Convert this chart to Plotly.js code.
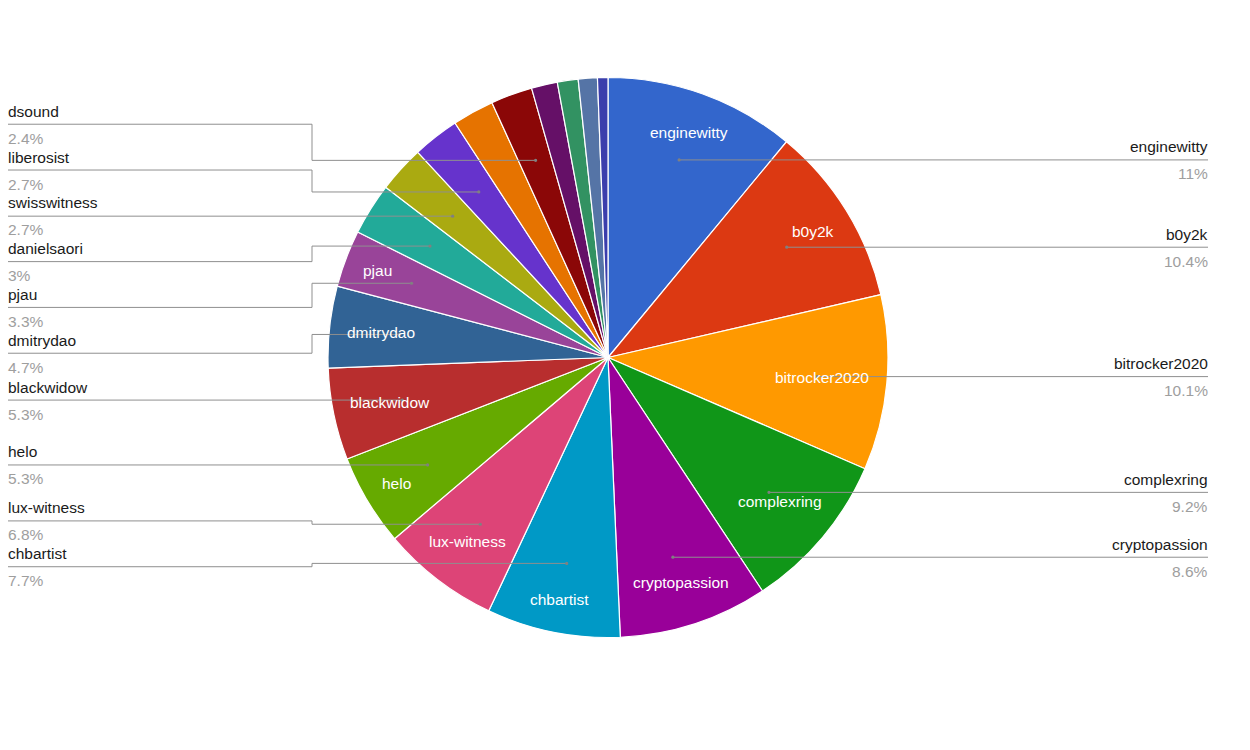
<!DOCTYPE html>
<html>
<head>
<meta charset="utf-8">
<script src="https://cdn.plot.ly/plotly-3.0.1.min.js"></script>
<style>html,body{margin:0;padding:0;background:#fff;}</style>
</head>
<body>
<div id="chart" style="width:1250px;height:750px;"></div>
<script>
// ---- data ----
const labels = ['enginewitty','b0y2k','bitrocker2020','complexring','cryptopassion','chbartist',
  'lux-witness','helo','blackwidow','dmitrydao','pjau','danielsaori','swisswitness','liberosist',
  '(unlabeled 1)','dsound','(unlabeled 2)','(unlabeled 3)','(unlabeled 4)','(unlabeled 5)'];
const values = [11,10.4,10.1,9.2,8.6,7.7,6.8,5.3,5.3,4.7,3.3,3,2.7,2.7,2.4,2.4,1.5,1.2,1.1,0.6];
const showOutsideLabel = [true,true,true,true,true,true,true,true,true,true,true,true,true,true,
  false,true,false,false,false,false];
const colors = ['#3366cc','#dc3912','#ff9900','#109618','#990099','#0099c6','#dd4477','#66aa00',
  '#b82e2e','#316395','#994499','#22aa99','#aaaa11','#6633cc','#e67300','#8b0707','#651067',
  '#329262','#5574a6','#3b3eac'];

// ---- layout constants ----
const W = 1250, H = 750;
const CX = 608, CY = 357.5, R = 280;
const FONT = "Arial, 'Liberation Sans', sans-serif";
const FS = 15.5;
const INSIDE_MIN = 3.2;          // minimum percent to get an inside label
const SPACING = 45.8;            // min vertical spacing of outside labels
const LEFT_X = 8, RIGHT_X = 1208, ELBOW = 312, TEXT_PAD = 2;

const X = px => px / W;
const Y = py => 1 - py / H;

const total = values.reduce((a, b) => a + b, 0);
const fmtPct = v => { const p = Math.round(v / total * 1000) / 10; return (p % 1 === 0 ? p.toFixed(0) : p.toFixed(1)) + '%'; };

const canvas = document.createElement('canvas');
const ctx = canvas.getContext('2d');
ctx.font = FS + "px 'Liberation Sans', Arial, sans-serif";

const annotations = [];
const shapes = [];
const leftItems = [], rightItems = [];

let cum = 0;
values.forEach((v, i) => {
  const a0 = cum / total * 2 * Math.PI;
  cum += v;
  const a1 = cum / total * 2 * Math.PI;
  const mid = (a0 + a1) / 2;
  const s = Math.sin(mid), c = Math.cos(mid);
  // inside label
  if (v / total * 100 >= INSIDE_MIN) {
    const hw = ctx.measureText(labels[i]).width / 2, hh = 9;
    const Rc = R - 17;
    const B = Math.abs(s) * hw + Math.abs(c) * hh;
    const C = hw * hw + hh * hh - Rc * Rc;
    const d = -B + Math.sqrt(B * B - C);
    annotations.push({
      x: X(CX + d * s), y: Y(CY - d * c), xref: 'paper', yref: 'paper',
      text: labels[i], showarrow: false, xanchor: 'center', yanchor: 'middle',
      font: {family: FONT, size: FS, color: '#ffffff'}
    });
  }
  if (showOutsideLabel[i]) {
    const item = {i: i, dx: CX + 0.75 * R * s, dy: CY - 0.75 * R * c};
    (mid < Math.PI ? rightItems : leftItems).push(item);
  }
});

function placeSide(list) {
  list.sort((a, b) => a.dy - b.dy);
  let cl = list.map(it => ({m: [it]}));
  const top = cl0 => {
    const mean = cl0.m.reduce((s, it) => s + it.dy, 0) / cl0.m.length;
    return mean - (cl0.m.length - 1) * SPACING / 2;
  };
  let merged = true;
  while (merged) {
    merged = false;
    for (let k = 0; k < cl.length - 1; k++) {
      const a = cl[k], b = cl[k + 1];
      if (top(a) + a.m.length * SPACING > top(b)) {
        cl.splice(k, 2, {m: a.m.concat(b.m)});
        merged = true; break;
      }
    }
  }
  cl.forEach(c0 => { const t = top(c0); c0.m.forEach((it, k) => it.ly = t + k * SPACING); });
}
placeSide(leftItems);
placeSide(rightItems);

const LINE = '#8f8f8f';
function seg(x0, y0, x1, y1) {
  shapes.push({type: 'line', xref: 'paper', yref: 'paper', x0: X(x0), y0: Y(y0), x1: X(x1), y1: Y(y1),
    line: {color: LINE, width: 1}});
}
function addLabel(it, left) {
  const i = it.i;
  const lx = left ? LEFT_X : RIGHT_X;
  const tx = left ? LEFT_X - TEXT_PAD : RIGHT_X + TEXT_PAD;
  const anchor = left ? 'left' : 'right';
  annotations.push({x: X(tx), y: Y(it.ly - 13), xref: 'paper', yref: 'paper', text: labels[i],
    showarrow: false, xanchor: anchor, yanchor: 'middle', font: {family: FONT, size: FS, color: '#1a1a1a'}});
  annotations.push({x: X(tx), y: Y(it.ly + 14), xref: 'paper', yref: 'paper', text: fmtPct(values[i]),
    showarrow: false, xanchor: anchor, yanchor: 'middle', font: {family: FONT, size: FS, color: '#9e9e9e'}});
  const ex = left ? ELBOW : 2 * CX - ELBOW;
  if (Math.abs(it.ly - it.dy) < 1.5) {
    seg(lx, it.dy, it.dx, it.dy);
  } else {
    seg(lx, it.ly, ex, it.ly);
    seg(ex, it.ly, ex, it.dy);
    seg(ex, it.dy, it.dx, it.dy);
  }
  shapes.push({type: 'circle', xref: 'paper', yref: 'paper', x0: X(it.dx - 1.6), x1: X(it.dx + 1.6),
    y0: Y(it.dy + 1.6), y1: Y(it.dy - 1.6), fillcolor: '#808080', line: {width: 0}});
}
leftItems.forEach(it => addLabel(it, true));
rightItems.forEach(it => addLabel(it, false));

const trace = {
  type: 'pie', labels: labels, values: values, sort: false, direction: 'clockwise', rotation: 0,
  textinfo: 'none', hoverinfo: 'label+percent',
  marker: {colors: colors, line: {color: '#ffffff', width: 1.2}},
  domain: {x: [(CX - R) / W, (CX + R) / W], y: [1 - (CY + R) / H, 1 - (CY - R) / H]}
};

const layout = {
  width: W, height: H, autosize: false, showlegend: false,
  margin: {l: 0, r: 0, t: 0, b: 0, pad: 0},
  paper_bgcolor: '#ffffff', plot_bgcolor: '#ffffff',
  font: {family: FONT},
  annotations: annotations, shapes: shapes
};

Plotly.newPlot('chart', [trace], layout, {displayModeBar: false, staticPlot: true});
</script>
</body>
</html>
